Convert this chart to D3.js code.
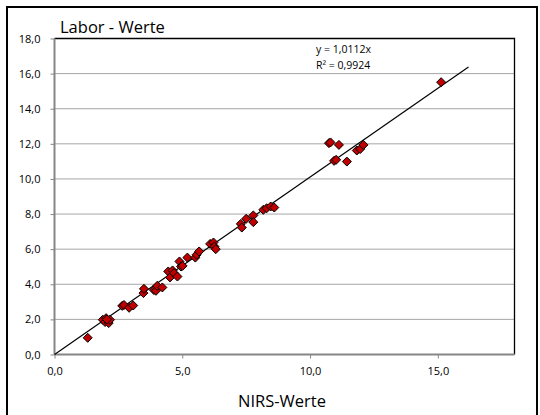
<!DOCTYPE html>
<html><head><meta charset="utf-8">
<script src="https://cdn.jsdelivr.net/npm/d3@7"></script>
<style>body{margin:0;background:#fff}svg{display:block}text{font-family:"Open Sans",sans-serif}</style>
</head><body><svg id="c" width="540" height="415"></svg>
<script>
const nirs  = [1.30,1.89,1.98,2.02,2.12,2.17,2.05,2.65,2.72,2.92,3.08,3.48,3.50,3.89,3.97,4.02,4.22,4.45,4.52,4.62,4.68,4.81,4.89,4.95,5.01,5.20,5.51,5.56,5.66,6.09,6.22,6.26,6.31,7.29,7.33,7.50,7.78,7.78,8.17,8.30,8.46,8.60,10.74,10.80,11.13,10.94,11.02,11.44,11.83,11.96,12.09,15.13];
const labor = [0.95,1.98,1.85,2.07,1.79,1.98,2.00,2.77,2.82,2.66,2.79,3.50,3.74,3.67,3.63,3.91,3.82,4.73,4.39,4.79,4.63,4.44,5.30,5.01,5.05,5.52,5.52,5.68,5.87,6.30,6.38,6.15,6.00,7.44,7.23,7.73,7.92,7.54,8.24,8.33,8.43,8.37,12.04,12.08,11.94,11.03,11.09,10.99,11.62,11.70,11.94,15.51];
const xTicks = [0,5,10,15];
const yTicks = [0,2,4,6,8,10,12,14,16,18];
const slope = 1.0112;
const trendX = [0,16.2];
const eqText = ["y = 1,0112x","R² = 0,9924"];

const svg = d3.select("#c");
const L=54.5, R=514.5, T=38.5, B=354.5;
const x = d3.scaleLinear().domain([0,18]).range([L,R]);
const y = d3.scaleLinear().domain([0,18]).range([B,T]);
const fmt = v => d3.format(".1f")(v).replace(".",",");

// outer frame
svg.append("rect").attr("x",7).attr("y",7).attr("width",530).attr("height",412)
  .attr("fill","#fff").attr("stroke","#000").attr("stroke-width",2);

// gridlines
svg.append("g").selectAll("line").data(yTicks.filter(d=>d>0)).join("line")
  .attr("x1",L).attr("x2",R).attr("y1",d=>y(d)).attr("y2",d=>y(d))
  .attr("stroke","#a6a6a6").attr("stroke-width",1);

// plot area border top/right
svg.append("path").attr("d",`M${L},${T}H${R}V${B}`).attr("fill","none").attr("stroke","#000").attr("stroke-width",1.3);

// axes
const gx = svg.append("g").attr("transform",`translate(0,${B})`)
  .call(d3.axisBottom(x).tickValues(xTicks).tickFormat(fmt).tickSize(4).tickPadding(9));
const gy = svg.append("g").attr("transform",`translate(${L},0)`)
  .call(d3.axisLeft(y).tickValues(yTicks).tickFormat(fmt).tickSize(4).tickPadding(10));
[gx,gy].forEach(g=>{
  g.select(".domain").attr("stroke","#868686").attr("stroke-width",2);
  g.selectAll(".tick line").attr("stroke","#868686");
  g.selectAll("text").attr("font-size",11).attr("fill","#000").style("font-family","Open Sans");
});
gy.select(".domain").attr("d",`M0,${T}V${B}`);
gx.select(".domain").attr("d",`M${L},0H${R}`);

// trendline
svg.append("line").attr("x1",x(trendX[0])).attr("y1",y(slope*trendX[0]))
  .attr("x2",x(trendX[1])).attr("y2",y(slope*trendX[1]))
  .attr("stroke","#000").attr("stroke-width",1.2);

// points
svg.append("g").selectAll("path").data(nirs.map((v,i)=>[v,labor[i]])).join("path")
  .attr("transform",d=>`translate(${x(d[0])},${y(d[1])})`)
  .attr("d","M0,-4.5L4.5,0L0,4.5L-4.5,0Z")
  .attr("fill","#c00000").attr("stroke","#000").attr("stroke-width",1);

// equation
svg.append("g").selectAll("text").data(eqText).join("text")
  .attr("x",316).attr("y",(d,i)=>53+i*16).attr("font-size",10.5).text(d=>d);

// titles
svg.append("text").attr("x",60).attr("y",33).attr("font-size",16.5).text("Labor - Werte");
svg.append("text").attr("x",282).attr("y",407).attr("text-anchor","middle").attr("font-size",16.5).text("NIRS-Werte");
</script></body></html>
